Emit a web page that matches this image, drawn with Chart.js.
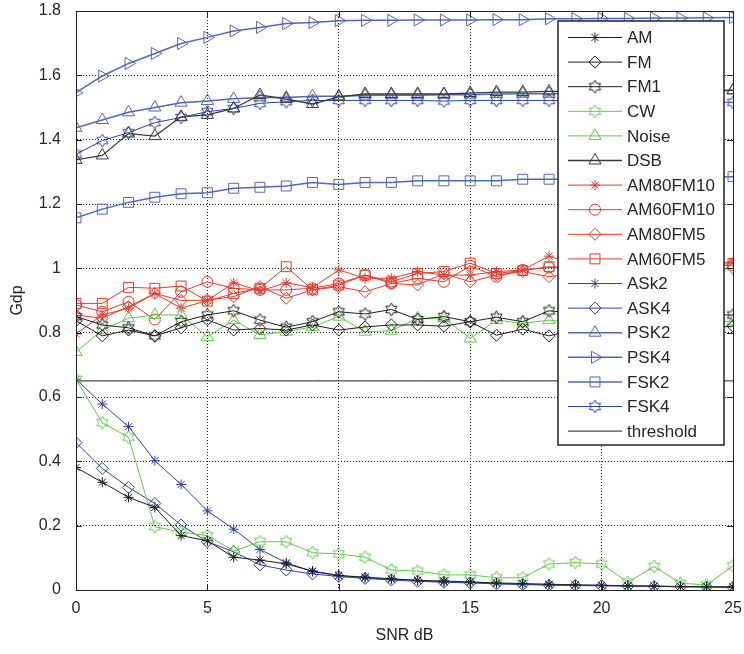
<!DOCTYPE html>
<html>
<head>
<meta charset="utf-8">
<script src="https://cdn.jsdelivr.net/npm/chart.js@4.4.1/dist/chart.umd.min.js"></script>
<style>
  html, body { margin: 0; padding: 0; background: #fff; }
</style>
</head>
<body>
<canvas id="myChart" width="744" height="654"></canvas>
<script>
// SNR axis (dB) and tick marks
const snr = [0, 1, 2, 3, 4, 5, 6, 7, 8, 9, 10, 11, 12, 13, 14, 15, 16, 17, 18, 19, 20, 21, 22, 23, 24, 25];
const xTicks = [0, 5, 10, 15, 20, 25];
const yTicks = [0, 0.2, 0.4, 0.6, 0.8, 1, 1.2, 1.4, 1.6, 1.8];

// Gdp values
const am       = [0.381, 0.335, 0.288, 0.257, 0.169, 0.153, 0.102, 0.093, 0.081, 0.059, 0.045, 0.040, 0.035, 0.030, 0.028, 0.025, 0.022, 0.020, 0.018, 0.016, 0.015, 0.013, 0.012, 0.011, 0.010, 0.010];
const fm       = [0.837, 0.790, 0.808, 0.790, 0.815, 0.840, 0.808, 0.813, 0.808, 0.824, 0.808, 0.818, 0.824, 0.824, 0.820, 0.834, 0.792, 0.811, 0.790, 0.810, 0.805, 0.815, 0.810, 0.820, 0.815, 0.820];
const fm1      = [0.850, 0.824, 0.815, 0.790, 0.834, 0.855, 0.868, 0.839, 0.817, 0.834, 0.865, 0.858, 0.872, 0.841, 0.850, 0.834, 0.848, 0.834, 0.868, 0.860, 0.855, 0.860, 0.850, 0.860, 0.855, 0.855];
const cw       = [0.655, 0.520, 0.475, 0.197, 0.180, 0.169, 0.121, 0.150, 0.150, 0.116, 0.112, 0.102, 0.062, 0.059, 0.047, 0.047, 0.038, 0.038, 0.081, 0.085, 0.081, 0.024, 0.073, 0.021, 0.016, 0.075];
const noise    = [0.740, 0.808, 0.845, 0.855, 0.855, 0.787, 0.839, 0.793, 0.803, 0.818, 0.850, 0.803, 0.806, 0.845, 0.845, 0.782, 0.839, 0.829, 0.839, 0.830, 0.835, 0.840, 0.830, 0.835, 0.835, 0.835];
const dsb      = [1.337, 1.351, 1.419, 1.411, 1.471, 1.477, 1.497, 1.539, 1.526, 1.511, 1.533, 1.542, 1.542, 1.542, 1.542, 1.545, 1.548, 1.548, 1.550, 1.550, 1.550, 1.551, 1.551, 1.552, 1.552, 1.553];
const am80fm10 = [0.796, 0.855, 0.876, 0.922, 0.876, 0.900, 0.955, 0.930, 0.955, 0.940, 0.995, 0.969, 0.969, 0.990, 0.979, 0.979, 0.990, 0.995, 1.038, 1.010, 1.000, 1.015, 1.005, 1.010, 1.015, 1.020];
const am60fm10 = [0.886, 0.865, 0.896, 0.841, 0.927, 0.958, 0.938, 0.933, 0.933, 0.938, 0.953, 0.979, 0.953, 0.969, 0.958, 1.008, 0.974, 0.995, 1.003, 1.000, 1.005, 0.995, 1.005, 1.000, 1.005, 1.010];
const am80fm5  = [0.855, 0.845, 0.881, 0.922, 0.900, 0.901, 0.912, 0.943, 0.907, 0.933, 0.943, 0.927, 0.953, 0.948, 0.984, 0.958, 0.979, 0.990, 0.974, 0.985, 0.990, 0.985, 0.995, 0.990, 0.995, 1.000];
const am60fm5  = [0.891, 0.891, 0.941, 0.938, 0.945, 0.898, 0.922, 0.938, 1.005, 0.933, 0.948, 0.979, 0.958, 0.984, 0.990, 1.016, 0.984, 0.993, 1.005, 1.000, 1.005, 1.010, 1.005, 1.010, 1.010, 1.015];
const ask2     = [0.655, 0.578, 0.508, 0.402, 0.328, 0.246, 0.189, 0.126, 0.085, 0.057, 0.045, 0.038, 0.033, 0.030, 0.025, 0.024, 0.020, 0.018, 0.016, 0.015, 0.014, 0.013, 0.012, 0.010, 0.010, 0.008];
const ask4     = [0.458, 0.378, 0.319, 0.269, 0.202, 0.150, 0.119, 0.078, 0.062, 0.050, 0.042, 0.036, 0.031, 0.027, 0.024, 0.022, 0.019, 0.017, 0.015, 0.014, 0.013, 0.012, 0.011, 0.010, 0.009, 0.008];
const psk2     = [1.437, 1.461, 1.485, 1.500, 1.515, 1.520, 1.527, 1.531, 1.531, 1.535, 1.535, 1.537, 1.538, 1.538, 1.540, 1.540, 1.542, 1.543, 1.543, 1.545, 1.546, 1.548, 1.549, 1.550, 1.552, 1.554];
const psk4     = [1.546, 1.598, 1.637, 1.668, 1.699, 1.718, 1.738, 1.749, 1.761, 1.764, 1.770, 1.771, 1.771, 1.772, 1.772, 1.772, 1.773, 1.773, 1.776, 1.776, 1.777, 1.777, 1.778, 1.778, 1.779, 1.780];
const fsk2     = [1.157, 1.184, 1.205, 1.221, 1.232, 1.235, 1.249, 1.252, 1.256, 1.267, 1.261, 1.267, 1.267, 1.272, 1.272, 1.272, 1.272, 1.277, 1.277, 1.278, 1.279, 1.280, 1.281, 1.282, 1.283, 1.285];
const fsk4     = [1.355, 1.397, 1.422, 1.453, 1.469, 1.487, 1.497, 1.513, 1.518, 1.522, 1.522, 1.522, 1.522, 1.522, 1.520, 1.522, 1.522, 1.522, 1.522, 1.520, 1.520, 1.519, 1.518, 1.518, 1.517, 1.516];
const threshold = [0.65, 0.65, 0.65, 0.65, 0.65, 0.65, 0.65, 0.65, 0.65, 0.65, 0.65, 0.65, 0.65, 0.65, 0.65, 0.65, 0.65, 0.65, 0.65, 0.65, 0.65, 0.65, 0.65, 0.65, 0.65, 0.65];

const BLACK = '#1e1e1e';
const GREEN = '#62c84e';
const RED = '#e8382c';
const BLUE = '#2f42a3';
const LBLUE = '#5366bb';

// hexagram marker (matlab 'h'), drawn once per colour
function hexagram(color, r) {
    const s = Math.ceil(r * 2 + 4);
    const c = document.createElement('canvas');
    c.width = s; c.height = s;
    const g = c.getContext('2d');
    g.strokeStyle = color;
    g.lineWidth = 1;
    g.beginPath();
    for (let k = 0; k < 12; k++) {
        const a = (-90 + k * 30) * Math.PI / 180;
        const rr = k % 2 ? r * 0.577 : r;
        const px = s / 2 + rr * Math.cos(a), py = s / 2 + rr * Math.sin(a);
        if (k) g.lineTo(px, py); else g.moveTo(px, py);
    }
    g.closePath();
    g.stroke();
    return c;
}

function series(label, data, color, style, extra) {
    return Object.assign({
        label: label,
        data: data,
        borderColor: color,
        backgroundColor: color,
        pointBorderColor: color,
        pointBackgroundColor: 'rgba(0,0,0,0)',
        pointStyle: style,
        pointRadius: 5,
        pointBorderWidth: 1,
        borderWidth: 1,
        tension: 0
    }, extra || {});
}

const datasets = [
    series('AM', am, BLACK, 'star', { pointRadius: 5 }),
    series('FM', fm, BLACK, 'rectRot', { pointRadius: 6 }),
    series('FM1', fm1, BLACK, hexagram(BLACK, 6.5)),
    series('CW', cw, GREEN, hexagram(GREEN, 6.5)),
    series('Noise', noise, GREEN, 'triangle', { pointRadius: 7 }),
    series('DSB', dsb, '#3a3a3a', 'triangle', { pointRadius: 7, borderWidth: 1.3 }),
    series('AM80FM10', am80fm10, RED, 'star'),
    series('AM60FM10', am60fm10, RED, 'circle', { pointRadius: 5.5 }),
    series('AM80FM5', am80fm5, RED, 'rectRot', { pointRadius: 6 }),
    series('AM60FM5', am60fm5, RED, 'rect', { pointRadius: 7 }),
    series('ASk2', ask2, BLUE, 'star'),
    series('ASK4', ask4, BLUE, 'rectRot', { pointRadius: 6 }),
    series('PSK2', psk2, LBLUE, 'triangle', { pointRadius: 7, borderWidth: 1.5 }),
    series('PSK4', psk4, LBLUE, 'triangle', { pointRadius: 7, pointRotation: 90, borderWidth: 1.5 }),
    series('FSK2', fsk2, LBLUE, 'rect', { pointRadius: 7, borderWidth: 1.5 }),
    series('FSK4', fsk4, BLUE, hexagram(BLUE, 6.5)),
    series('threshold', threshold, BLACK, false, { pointRadius: 0 })
];

// legend box inside the axes, top right, matlab style
const boxLegend = {
    id: 'boxLegend',
    afterDatasetsDraw(chart) {
        const ctx = chart.ctx;
        const area = chart.chartArea;
        const w = 166, h = 424;
        const left = area.right - 9 - w, top = area.top + 10;
        ctx.save();
        ctx.fillStyle = '#fff';
        ctx.fillRect(left, top, w, h);
        ctx.strokeStyle = '#222';
        ctx.lineWidth = 1.5;
        ctx.strokeRect(left, top, w, h);
        ctx.font = '17px "Liberation Sans", Arial, sans-serif';
        ctx.textBaseline = 'middle';
        chart.data.datasets.forEach((ds, i) => {
            const y = top + 16.5 + i * 24.6;
            ctx.strokeStyle = ds.borderColor;
            ctx.lineWidth = ds.borderWidth;
            ctx.beginPath();
            ctx.moveTo(left + 10, y);
            ctx.lineTo(left + 64, y);
            ctx.stroke();
            if (ds.pointStyle) {
                ctx.lineWidth = 1;
                ctx.fillStyle = 'rgba(0,0,0,0)';
                Chart.helpers.drawPoint(ctx, {
                    pointStyle: ds.pointStyle,
                    radius: ds.pointRadius,
                    rotation: ds.pointRotation || 0,
                    borderWidth: 1
                }, left + 37, y);
            }
            ctx.fillStyle = '#262626';
            ctx.fillText(ds.label, left + 69, y + 1);
        });
        ctx.restore();
    },
    afterDraw(chart) {
        // solid frame plus inward ticks on all four sides
        const ctx = chart.ctx;
        const a = chart.chartArea;
        const xs = chart.scales.x, ys = chart.scales.y;
        ctx.save();
        ctx.strokeStyle = '#222';
        ctx.lineWidth = 1;
        ctx.strokeRect(a.left + 0.5, a.top + 0.5, a.right - a.left, a.bottom - a.top);
        ctx.beginPath();
        xTicks.forEach(v => {
            const px = Math.round(xs.getPixelForValue(v)) + 0.5;
            ctx.moveTo(px, a.bottom); ctx.lineTo(px, a.bottom - 6);
            ctx.moveTo(px, a.top); ctx.lineTo(px, a.top + 6);
        });
        yTicks.forEach(v => {
            const py = Math.round(ys.getPixelForValue(v)) + 0.5;
            ctx.moveTo(a.left, py); ctx.lineTo(a.left + 6, py);
            ctx.moveTo(a.right, py); ctx.lineTo(a.right - 6, py);
        });
        ctx.stroke();
        ctx.restore();
    }
};

Chart.defaults.font.family = '"Liberation Sans", Arial, sans-serif';
Chart.defaults.color = '#262626';

const ctx = document.getElementById('myChart').getContext('2d');
new Chart(ctx, {
    type: 'line',
    data: { labels: snr, datasets: datasets },
    options: {
        responsive: false,
        animation: false,
        layout: { padding: { left: 0, right: 11, top: 11, bottom: 0 } },
        plugins: { legend: { display: false }, tooltip: { enabled: false } },
        scales: {
            x: {
                type: 'linear', min: 0, max: 25,
                afterBuildTicks: s => { s.ticks = xTicks.map(v => ({ value: v })); },
                afterFit: s => { s.height = 64; s.paddingLeft = 0; s.paddingRight = 0; },
                ticks: { padding: 9, font: { size: 16 }, maxRotation: 0, callback: v => String(v) },
                grid: { color: '#222', lineWidth: 1, drawTicks: false },
                border: { dash: [1, 2], color: '#222', width: 1 },
                title: { display: true, text: 'SNR dB', font: { size: 16 }, padding: { top: 0, bottom: 9 } }
            },
            y: {
                type: 'linear', min: 0, max: 1.8,
                afterBuildTicks: s => { s.ticks = yTicks.map(v => ({ value: v })); },
                afterFit: s => { s.width = 76; s.paddingTop = 0; s.paddingBottom = 0; },
                ticks: { padding: 15, font: { size: 16 }, callback: v => String(v) },
                grid: { color: '#222', lineWidth: 1, drawTicks: false },
                border: { dash: [1, 2], color: '#222', width: 1 },
                title: { display: true, text: 'Gdp', font: { size: 16 }, padding: { top: 8, bottom: 0 } }
            }
        }
    },
    plugins: [boxLegend]
});
</script>
</body>
</html>
